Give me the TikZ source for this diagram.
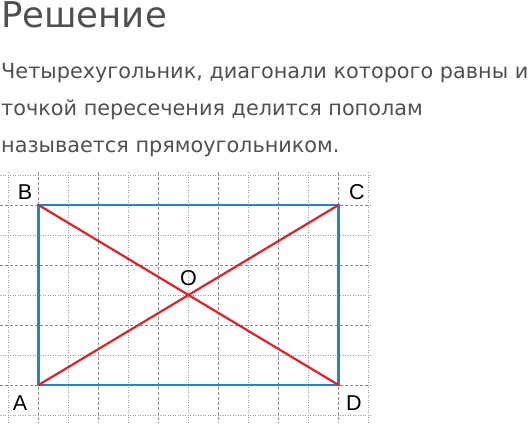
\documentclass[tikz,border=0pt]{standalone}
\usepackage{fontspec}
\setmainfont{DejaVu Sans}
\newfontfamily\labelfont{Liberation Sans}
\usepackage{xcolor}
\usetikzlibrary{positioning}
\definecolor{textgray}{RGB}{80,80,80}
\definecolor{gridgray}{RGB}{140,140,140}
\definecolor{rectblue}{RGB}{40,130,200}
\definecolor{diagred}{RGB}{230,30,40}
\tikzstyle{title} = [anchor=base west, inner sep=0pt, text=textgray, font=\fontsize{35.5}{36}\selectfont]
\tikzstyle{body} = [anchor=base west, inner sep=0pt, text=textgray, font=\fontsize{20.8}{21}\selectfont]
\tikzstyle{vertex} = [inner sep=0pt, font=\labelfont\fontsize{21.5}{22}\selectfont]
\tikzstyle{majorgrid} = [gridgray, line width=0.9pt, dash pattern=on 3pt off 2pt]
\tikzstyle{minorgrid} = [gridgray!85, line width=0.9pt, dash pattern=on 1pt off 1.5pt]
\tikzstyle{side} = [rectblue, line width=2.6pt, line join=miter]
\tikzstyle{diag} = [diagred, line width=2.2pt]

\begin{document}
\begin{tikzpicture}[x=1pt, y=-1pt]
				\useasboundingbox (0,0) rectangle (529,423);
				
				% Text
				\node (head) [title] at (1,27) {Решение};
				\node (line1) [body] at (1,78) {Четырехугольник, диагонали которого равны и};
				\node (line2) [body] at (1,115) {точкой пересечения делится пополам};
				\node (line3) [body] at (1,152) {называется прямоугольником.};
				
				% Grid
				\foreach \x in {38,98,...,338} \draw [majorgrid] (\x,172) -- (\x,423);
				\foreach \x in {8,68,...,368} \draw [minorgrid] (\x,172) -- (\x,423);
				\foreach \y in {205,265,325,385} \draw [majorgrid] (0,\y) -- (371,\y);
				\foreach \y in {175,235,295,355,415} \draw [minorgrid] (0,\y) -- (371,\y);
				
				% Vertices
				\coordinate (A) at (38.5,385);
				\coordinate (B) at (38.5,205);
				\coordinate (C) at (338.5,205);
				\coordinate (D) at (338.5,385);
				\coordinate (O) at (188.5,295);
				
				% Rectangle and diagonals
				\draw [side] (A) -- (B) -- (C) -- (D) -- cycle;
				\draw [diag] (A) -- (C);
				\draw [diag] (B) -- (D);
				
				% Labels
				\node (labA) [vertex] at (20,403) {A};
				\node (labB) [vertex] at (25,192) {B};
				\node (labC) [vertex] at (357,192) {C};
				\node (labD) [vertex] at (354,403) {D};
				\node (labO) [vertex, above=9pt of O] {O};
				
			\end{tikzpicture}
\end{document}
